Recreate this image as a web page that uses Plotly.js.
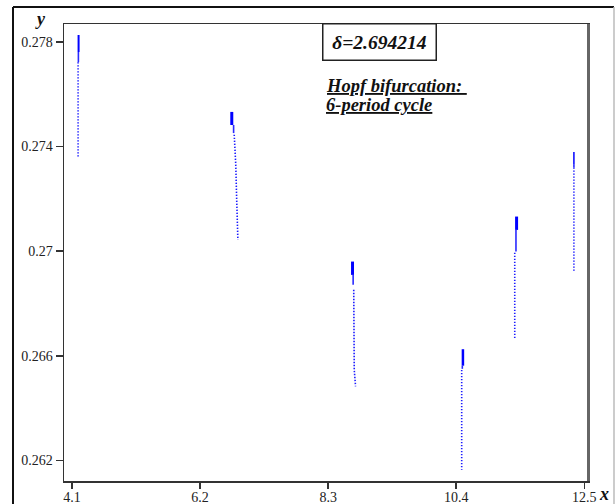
<!DOCTYPE html>
<html>
<head>
<meta charset="utf-8">
<script src="https://cdn.plot.ly/plotly-3.0.1.min.js"></script>
<style>html,body{margin:0;padding:0;background:#fff;}#chart{width:616px;height:504px;}</style>
</head>
<body>
<div id="chart"></div>
<script>
// Six points of the 6-period cycle: dense head, thinner neck and dotted tail of each column
const headX = [[4.208,4.208],[6.72,6.72],[8.70,8.70],[10.51,10.51],[11.39,11.39],[12.33,12.33]];
const headY = [[0.27826,0.27761],[0.27532,0.27482],[0.26960,0.26909],[0.26625,0.26562],[0.27132,0.27081],[0.27379,0.27330]];
const neckX = [[4.205,4.205],[6.75,6.75],[8.71,8.71],[10.50,10.50],[11.38,11.38],[12.33,12.33]];
const neckY = [[0.27761,0.27722],[0.27482,0.27451],[0.26909,0.26871],[0.26562,0.26550],[0.27081,0.26998],[0.27330,0.27320]];
const dotX = [[4.20,4.20],[6.76,6.785,6.80,6.82],[8.72,8.728,8.75],[10.49,10.49],[11.36,11.36],[12.33,12.33]];
const dotY = [[0.27722,0.27356],[0.27445,0.2733,0.2720,0.27043],[0.26852,0.26546,0.26483],[0.26546,0.26164],[0.26994,0.26661],[0.27320,0.26918]];
const xTicks = [4.1, 6.2, 8.3, 10.4, 12.5];
const xTickText = ['4.1', '6.2', '8.3', '10.4', '12.5'];
const yTicks = [0.262, 0.266, 0.27, 0.274, 0.278];
const yTickText = ['0.262', '0.266', '0.27', '0.274', '0.278'];
const deltaText = 'δ=2.694214';
const noteLines = ['Hopf bifurcation: ', '6-period cycle'];

const headW = [2, 3, 3, 2.5, 3, 1.5];
const traces = [];
for (let i = 0; i < headX.length; i++) {
  traces.push({x: dotX[i], y: dotY[i], type: 'scatter', mode: 'lines', hoverinfo: 'skip',
    line: {color: '#1a1aff', width: 1.6, dash: '1.4px,1.6px'}});
  traces.push({x: neckX[i], y: neckY[i], type: 'scatter', mode: 'lines', hoverinfo: 'skip',
    line: {color: '#2a2aff', width: 1.6}});
  traces.push({x: headX[i], y: headY[i], type: 'scatter', mode: 'lines', hoverinfo: 'skip',
    line: {color: '#0000ff', width: headW[i]}});
}

const serif = 'Liberation Serif, Times New Roman, serif';
const W = 524, H = 457, L = 64, T = 24;
const px = v => (v - L) / W;
const py = v => (T + H - v) / H;

const layout = {
  width: 616, height: 504,
  margin: {l: 64, r: 28, t: 24, b: 23, pad: 0},
  paper_bgcolor: '#fff', plot_bgcolor: '#fff',
  showlegend: false,
  xaxis: {range: [3.969, 12.561], tickvals: xTicks, ticktext: xTickText,
    ticks: 'outside', ticklen: 6, tickwidth: 1.5, tickcolor: '#333', ticklabelstandoff: -3,
    showline: true, linecolor: '#333', linewidth: 1.5, mirror: true,
    showgrid: false, zeroline: false,
    tickfont: {family: serif, size: 14, color: '#222'}},
  yaxis: {range: [0.261213, 0.27868], tickvals: yTicks, ticktext: yTickText,
    ticks: 'outside', ticklen: 7, tickwidth: 1.5, tickcolor: '#333',
    showline: true, linecolor: '#333', linewidth: 1.5, mirror: true,
    showgrid: false, zeroline: false,
    tickfont: {family: serif, size: 14, color: '#222'}},
  shapes: [
    {type: 'line', xref: 'paper', yref: 'paper', x0: px(13), x1: px(614), y0: py(7), y1: py(7), line: {color: '#111', width: 2}},
    {type: 'line', xref: 'paper', yref: 'paper', x0: px(13), x1: px(13), y0: py(7), y1: py(540), line: {color: '#111', width: 2}},
    {type: 'line', xref: 'paper', yref: 'paper', x0: px(614), x1: px(614), y0: py(7), y1: py(540), line: {color: '#bbb', width: 1.5}},
    {type: 'line', xref: 'paper', yref: 'paper', x0: px(588.5), x1: px(588.5), y0: py(24), y1: py(481), line: {color: '#666', width: 3}}
  ],
  annotations: [
    {xref: 'paper', yref: 'paper', x: px(379.7), y: py(41.7), xanchor: 'center', yanchor: 'middle',
      text: '<b><i>' + deltaText + '</i></b>', showarrow: false,
      font: {family: serif, size: 19.5, color: '#111'},
      bordercolor: '#222', borderwidth: 1.5, borderpad: 0, width: 112, height: 35, bgcolor: '#fff'},
    {xref: 'paper', yref: 'paper', x: px(324), y: py(86), xanchor: 'left', yanchor: 'middle',
      text: '<b><i><u>' + noteLines[0] + '</u></i></b>', showarrow: false,
      font: {family: serif, size: 18.5, color: '#111'}},
    {xref: 'paper', yref: 'paper', x: px(324), y: py(105.5), xanchor: 'left', yanchor: 'middle',
      text: '<b><i><u>' + noteLines[1] + '</u></i></b>', showarrow: false,
      font: {family: serif, size: 18.5, color: '#111'}},
    {xref: 'paper', yref: 'paper', x: px(40), y: py(19), xanchor: 'center', yanchor: 'middle',
      text: '<b><i>y</i></b>', showarrow: false, font: {family: serif, size: 18, color: '#111'}},
    {xref: 'paper', yref: 'paper', x: px(604), y: py(494), xanchor: 'center', yanchor: 'middle',
      text: '<b><i>x</i></b>', showarrow: false, font: {family: serif, size: 18, color: '#111'}}
  ]
};

Plotly.newPlot('chart', traces, layout, {staticPlot: true, displayModeBar: false});
</script>
</body>
</html>
